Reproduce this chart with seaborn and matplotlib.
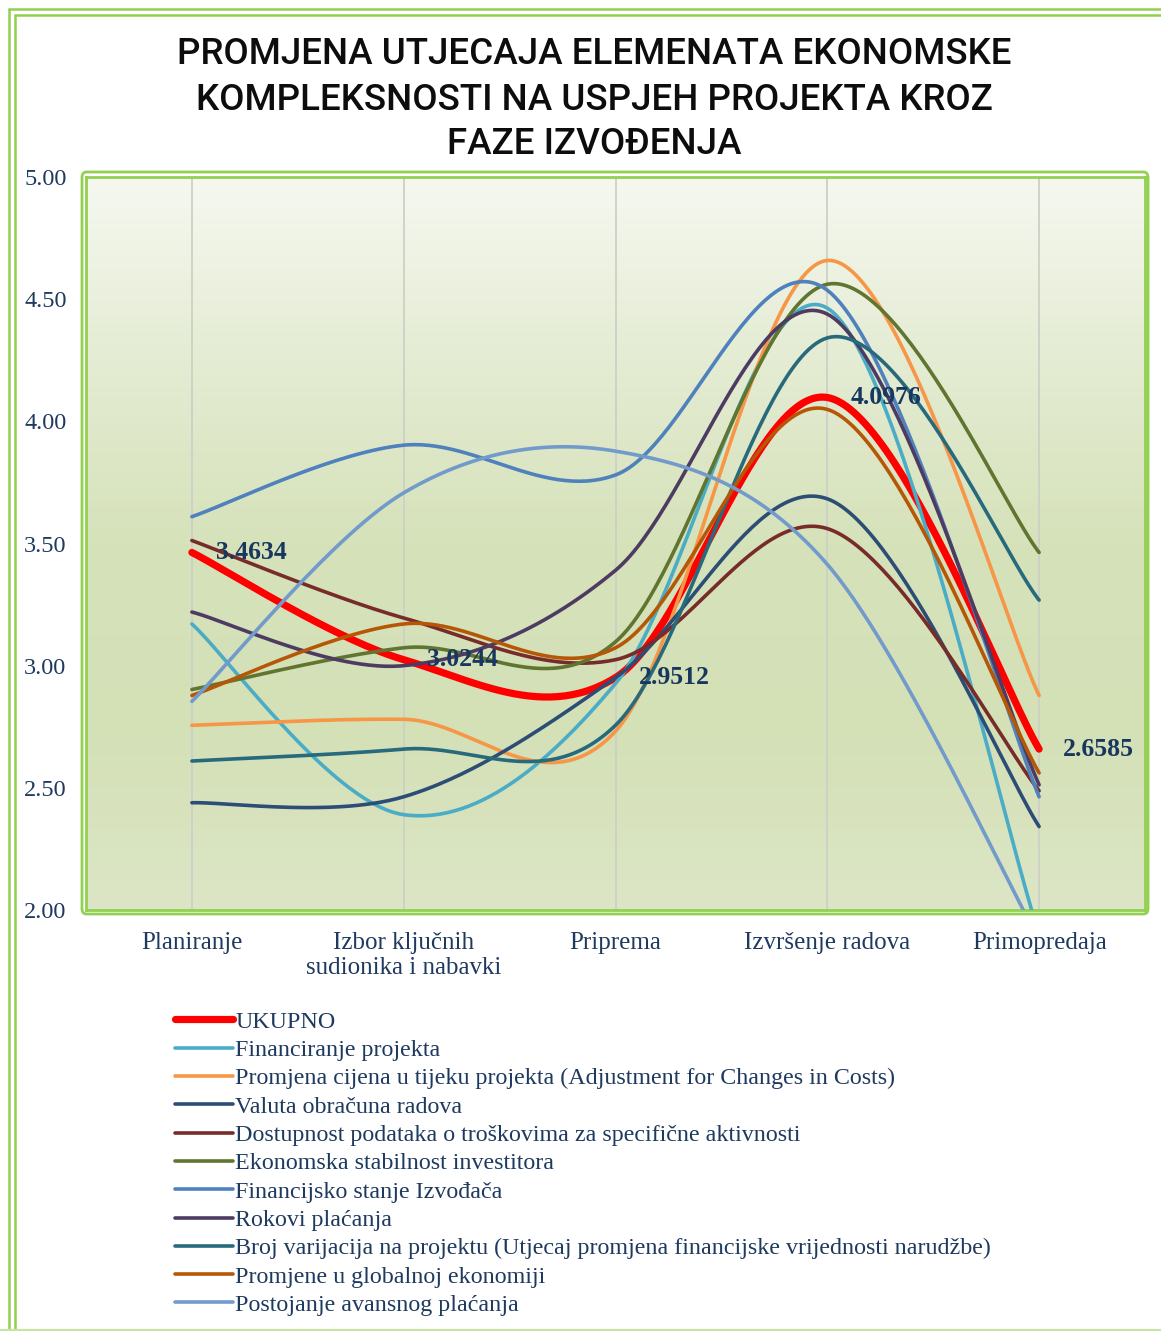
import numpy as np
import pandas as pd
import matplotlib
matplotlib.use('Agg')
import matplotlib.pyplot as plt
import seaborn as sns
from matplotlib.colors import LinearSegmentedColormap
from matplotlib.patches import FancyBboxPatch
from matplotlib.lines import Line2D

# data (mean scores per phase)
faze = ['Planiranje', 'Izbor ključnih\nsudionika i nabavki', 'Priprema', 'Izvršenje radova', 'Primopredaja']

ukupno = [3.4634, 3.0244, 2.9512, 4.0976, 2.6585]
financiranje = [3.1707, 2.3902, 2.9268, 4.4634, 1.9024]
promjena_cijena = [2.7561, 2.7805, 2.7317, 4.6585, 2.8780]
valuta = [2.4390, 2.4634, 2.9512, 3.6829, 2.3415]
dostupnost = [3.5122, 3.1951, 3.0244, 3.5610, 2.4878]
ekonomska = [2.9024, 3.0732, 3.0976, 4.5610, 3.4634]
stanje_izvodjaca = [3.6098, 3.9024, 3.7805, 4.5366, 2.4634]
rokovi = [3.2195, 3.0000, 3.3902, 4.4390, 2.5122]
varijacije = [2.6098, 2.6585, 2.7561, 4.3415, 3.2683]
globalna = [2.8780, 3.1707, 3.0732, 4.0488, 2.5610]
avans = [2.8537, 3.7073, 3.8780, 3.4146, 1.8780]

names = ['UKUPNO',
         'Financiranje projekta',
         'Promjena cijena u tijeku projekta (Adjustment for Changes in Costs)',
         'Valuta obračuna radova',
         'Dostupnost podataka o troškovima za specifične aktivnosti',
         'Ekonomska stabilnost investitora',
         'Financijsko stanje Izvođača',
         'Rokovi plaćanja',
         'Broj varijacija na projektu (Utjecaj promjena financijske vrijednosti narudžbe)',
         'Promjene u globalnoj ekonomiji',
         'Postojanje avansnog plaćanja']
series = [ukupno, financiranje, promjena_cijena, valuta, dostupnost, ekonomska,
          stanje_izvodjaca, rokovi, varijacije, globalna, avans]
colors = ['#FF0000', '#4BACC6', '#F79646', '#2C4D75', '#772C2A', '#5F7530',
          '#4F81BD', '#4D3B62', '#276A7C', '#B65708', '#729ACA']


def smooth(vals, n=60):
    # excel-like smoothed line (catmull-rom bezier)
    p = np.array([[i, v] for i, v in enumerate(vals)], dtype=float)
    pts = []
    for i in range(len(p) - 1):
        p0 = p[max(i - 1, 0)]
        p1 = p[i]
        p2 = p[i + 1]
        p3 = p[min(i + 2, len(p) - 1)]
        c1 = p1 + (p2 - p0) / 6
        c2 = p2 - (p3 - p1) / 6
        t = np.linspace(0, 1, n)[:, None]
        seg = (1 - t)**3 * p1 + 3 * (1 - t)**2 * t * c1 + 3 * (1 - t) * t**2 * c2 + t**3 * p2
        pts.append(seg if i == 0 else seg[1:])
    pts = np.vstack(pts)
    return pts[:, 0], pts[:, 1]


W, H = 1161, 1331
fig = plt.figure(figsize=(W / 100, H / 100), dpi=100)
sns.set_style('white')
plt.rcParams['font.family'] = ['Liberation Serif', 'DejaVu Serif']

ax = fig.add_axes([86 / W, 1 - 910 / H, (1145 - 86) / W, (910 - 177) / H])

# gradient fill of the plot area
grad = LinearSegmentedColormap.from_list('g', ['#F6F8F0', '#E4ECD3', '#D6E2BA', '#D4E0B6', '#DCE6C6'])
ax.imshow(np.linspace(0, 1, 256)[:, None], cmap=grad, aspect='auto',
          extent=(-0.5, 4.5, 2, 5), origin='upper', zorder=0)

for i in range(len(faze)):
    ax.axvline(i, color='#CDD0C6', lw=1.3, zorder=1)

for name, vals, col in zip(names, series, colors):
    xs, ys = smooth(vals)
    lw = 5.2 if name == 'UKUPNO' else 2.6
    sns.lineplot(x=xs, y=ys, sort=False, color=col, lw=lw, ax=ax,
                 solid_capstyle='round', zorder=3)

# data labels for UKUPNO
for i, v in enumerate(ukupno):
    ax.annotate(f'{v:.4f}', (i, v), xytext=(17, 0), textcoords='offset points',
                ha='left', va='center', fontsize=18.5, fontweight='bold',
                color='#17375E', zorder=5)

ax.set_xlim(-0.5, 4.5)
ax.set_ylim(2, 5)
ax.set_yticks(np.arange(2, 5.01, 0.5))
ax.set_yticklabels([f'{t:.2f}' for t in np.arange(2, 5.01, 0.5)])
ax.set_xticks(range(len(faze)))
ax.set_xticklabels(faze, linespacing=1.15)
ax.tick_params(axis='y', length=0, pad=14, labelsize=17.5, labelcolor='#1F3A5F')
ax.tick_params(axis='x', length=0, pad=16, labelsize=18, labelcolor='#1F3A5F')
ax.set_xlabel('')
ax.set_ylabel('')
for s in ax.spines.values():
    s.set_color('#92D050')
    s.set_linewidth(2.0)

# outer double frame of the plot area
frame = FancyBboxPatch((82 / W, 1 - 914 / H), (1148 - 82) / W, (914 - 172) / H,
                       boxstyle='round,pad=0,rounding_size=0.004', transform=fig.transFigure,
                       fill=False, ec='#92D050', lw=2.0, zorder=0)
fig.patches.append(frame)

# outer frame of the whole chart
for off in (9, 15):
    fig.add_artist(Line2D([off / W, 1], [1 - off / H, 1 - off / H], color='#92D050', lw=1.8))
    fig.add_artist(Line2D([off / W, off / W], [0, 1 - off / H], color='#92D050', lw=1.8))
fig.add_artist(Line2D([0, 1], [1 - 1330 / H, 1 - 1330 / H], color='#C6E6A0', lw=1.5))

# title
title_lines = ['PROMJENA UTJECAJA ELEMENATA EKONOMSKE',
               'KOMPLEKSNOSTI NA USPJEH PROJEKTA KROZ',
               'FAZE IZVOĐENJA']
for k, line in enumerate(title_lines):
    fig.text(594 / W, 1 - (55 + 45 * k) / H, line, ha='center', va='center',
             fontsize=26.5, family='Roboto', fontweight='medium', color='#0D0D0D')

handles = [Line2D([0], [0], color=c, lw=(5.2 if n == 'UKUPNO' else 2.6), solid_capstyle='round')
           for n, c in zip(names, colors)]
fig.legend(handles, names, loc='upper left', bbox_to_anchor=(175 / W, 1 - 1011 / H),
           frameon=False, borderaxespad=0, borderpad=0, fontsize=17.3,
           labelspacing=0.27, handlelength=2.4, handletextpad=0.1, labelcolor='#1F3A5F')

fig.savefig('out.png', dpi=100, facecolor='white')
